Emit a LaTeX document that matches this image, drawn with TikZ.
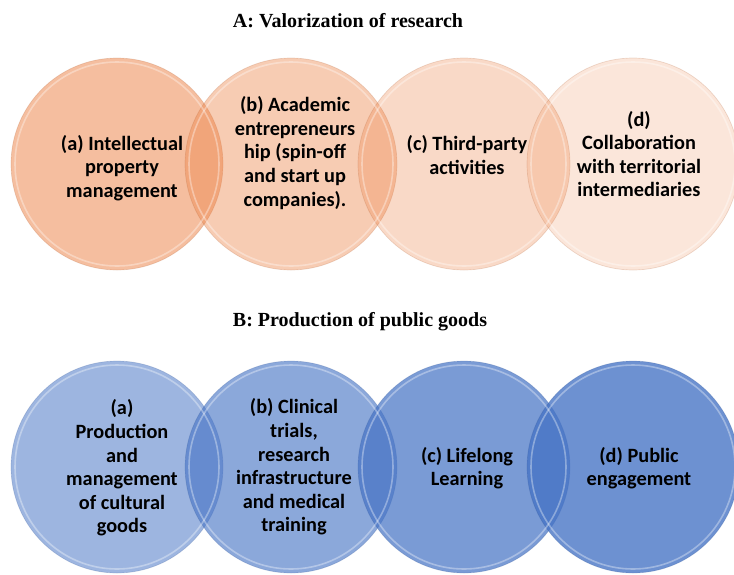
\documentclass[tikz,border=0pt]{standalone}
\usepackage{fontspec}
\setmainfont{Liberation Serif}
\newfontfamily\carlitofont{Carlito}
\definecolor{orbase}{RGB}{236,130,70}
\definecolor{blbase}{RGB}{68,114,196}
\begin{document}
\begin{tikzpicture}[x=1pt,y=-1pt,
  lbl/.style={align=center, font=\carlitofont\bfseries\fontsize{20.3}{23.6}\selectfont, text=black, inner sep=0pt},
  ttl/.style={font=\bfseries\fontsize{20}{22}\selectfont, inner sep=0pt, anchor=base},
  disc/.style={circle, inner sep=0pt, minimum size=212pt, fill=#1, draw=#1!75!black, draw opacity=0.22, line width=0.7pt},
  rim/.style={draw=white, draw opacity=0.35, line width=1.6pt}
]
\useasboundingbox (0,0) rectangle (734,574);
\clip (0,0) rectangle (734,574);

% Titles
\node[ttl] (tA) at (348,27) {A: Valorization of research};
\node[ttl] (tB) at (360,326) {B: Production of public goods};

% Row A circles
\node[disc=orbase, fill opacity=0.52] (ca1) at (117,164) {};
\node[disc=orbase, fill opacity=0.41] (ca2) at (291,164) {};
\node[disc=orbase, fill opacity=0.30] (ca3) at (464,164) {};
\node[disc=orbase, fill opacity=0.20] (ca4) at (633,164) {};
\foreach \n in {ca1,ca2,ca3,ca4} \draw[rim] (\n.center) circle[radius=102pt];

% Row B circles
\node[disc=blbase, fill opacity=0.52] (cb1) at (117,467) {};
\node[disc=blbase, fill opacity=0.62] (cb2) at (291,467) {};
\node[disc=blbase, fill opacity=0.71] (cb3) at (464,467) {};
\node[disc=blbase, fill opacity=0.78] (cb4) at (633,467) {};
\foreach \n in {cb1,cb2,cb3,cb4} \draw[rim] (\n.center) circle[radius=102pt];

% Row A labels
\node[lbl] (ta1) at (122,168) {(a) Intellectual\\property\\management};
\node[lbl] (ta2) at (295,153) {(b) Academic\\entrepreneurs\\hip (spin-off\\and start up\\companies).};
\node[lbl] (ta3) at (467,155) {(c) Third-party\\activities};
\node[lbl] (ta4) at (639,154) {(d)\\Collaboration\\with territorial\\intermediaries};

% Row B labels
\node[lbl] (tb1) at (122,468) {(a)\\Production\\and\\management\\of cultural\\goods};
\node[lbl] (tb2) at (294,467) {(b) Clinical\\trials,\\research\\infrastructure\\and medical\\training};
\node[lbl] (tb3) at (467,468) {(c) Lifelong\\Learning};
\node[lbl] (tb4) at (639,468) {(d) Public\\engagement};
\end{tikzpicture}
\end{document}
